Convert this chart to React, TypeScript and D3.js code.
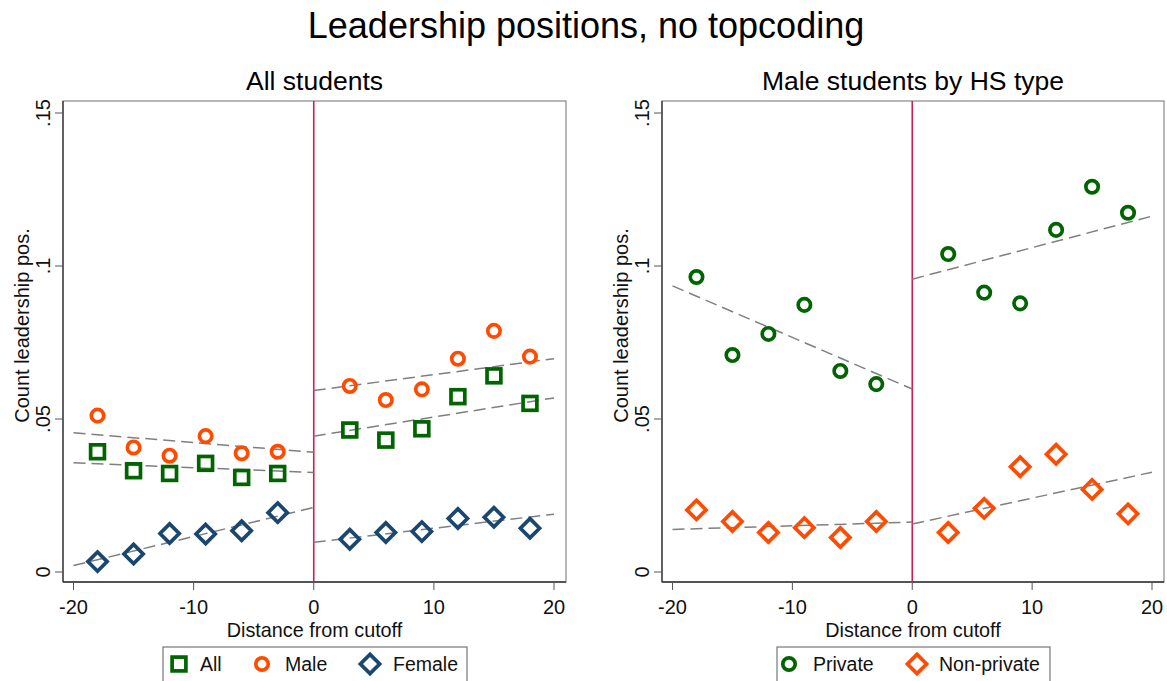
import React from "react";
import * as d3 from "d3";

const xBins = [-18, -15, -12, -9, -6, -3, 3, 6, 9, 12, 15, 18];
const yTicks = [0, 0.05, 0.1, 0.15];
const yTickLabels = ["0", ".05", ".1", ".15"];
const xTicks = [-20, -10, 0, 10, 20];

// Left panel: All students
const allVals = [0.0393, 0.0331, 0.0322, 0.0355, 0.0309, 0.0322, 0.0464, 0.0431, 0.0468, 0.0573, 0.0641, 0.0551];
const maleVals = [0.0511, 0.0407, 0.038, 0.0444, 0.0388, 0.0393, 0.0608, 0.0562, 0.0597, 0.0697, 0.0788, 0.0704];
const femaleVals = [0.0034, 0.0059, 0.0126, 0.0124, 0.0135, 0.0194, 0.0107, 0.0129, 0.0132, 0.0175, 0.0179, 0.0143];

// Fit lines: [x, y] endpoints, left segment and right segment
const allFitL = [[-20, 0.0357], [0, 0.0325]];
const allFitR = [[0, 0.0444], [20, 0.0569]];
const maleFitL = [[-20, 0.0455], [0, 0.0391]];
const maleFitR = [[0, 0.0593], [20, 0.0697]];
const femaleFitL = [[-20, 0.0021], [0, 0.0211]];
const femaleFitR = [[0, 0.0097], [20, 0.0189]];

// Right panel: Male students by HS type
const privateVals = [0.0964, 0.0709, 0.0778, 0.0873, 0.0657, 0.0614, 0.1039, 0.0913, 0.0878, 0.1118, 0.1259, 0.1174];
const nonPrivateVals = [0.0203, 0.0165, 0.0129, 0.0145, 0.0113, 0.0165, 0.0129, 0.0208, 0.0344, 0.0385, 0.027, 0.019];

const privateFitL = [[-20, 0.0935], [0, 0.0598]];
const privateFitR = [[0, 0.0957], [20, 0.1163]];
const nonPrivateFitL = [[-20, 0.0139], [0, 0.0163]];
const nonPrivateFitR = [[0, 0.0157], [20, 0.0326]];

const GREEN = "#006400";
const ORANGE = "#ff4b00";
const NAVY = "#1a476f";
const CUT = "#cf1f4f";
const FONT = "'Liberation Sans', Arial, Helvetica, sans-serif";

type Shape = "square" | "circle" | "diamond";

function Marker({ shape, cx, cy, color }: { shape: Shape; cx: number; cy: number; color: string }) {
  if (shape === "square") {
    return <rect x={cx - 6.9} y={cy - 6.9} width={13.8} height={13.8} fill="none" stroke={color} strokeWidth={3.7} />;
  }
  if (shape === "circle") {
    return <circle cx={cx} cy={cy} r={6.2} fill="none" stroke={color} strokeWidth={3.7} />;
  }
  const r = 9.6;
  return (
    <path
      d={`M${cx},${cy - r}L${cx + r},${cy}L${cx},${cy + r}L${cx - r},${cy}Z`}
      fill="none"
      stroke={color}
      strokeWidth={3.7}
    />
  );
}

interface Series {
  vals: number[];
  shape: Shape;
  color: string;
  fits: number[][][];
}

function Panel({
  left,
  right,
  title,
  series,
}: {
  left: number;
  right: number;
  title: string;
  series: Series[];
}) {
  const top = 101;
  const bottom = 582;
  const x0 = left + 10.5;
  const x1 = right - 12;
  const x = d3.scaleLinear().domain([-20, 20]).range([x0, x1]);
  const y = d3.scaleLinear().domain([0, 0.15]).range([572, 113]);
  const line = d3
    .line<number[]>()
    .x((d) => x(d[0]))
    .y((d) => y(d[1]));
  const cx = (left + right) / 2;
  return (
    <g>
      <text x={cx} y={90} textAnchor="middle" fontSize={26.5} fontFamily={FONT} fill="#000">
        {title}
      </text>
      <rect x={left} y={top} width={right - left} height={bottom - top} fill="#fff" stroke="#888" strokeWidth={1.2} />
      <line x1={left} x2={left} y1={top} y2={bottom} stroke="#333" strokeWidth={1.3} />
      <line x1={left} x2={right} y1={bottom} y2={bottom} stroke="#333" strokeWidth={1.3} />
      {yTicks.map((t, i) => (
        <g key={"y" + i}>
          <line x1={left - 8} x2={left} y1={y(t)} y2={y(t)} stroke="#555" strokeWidth={1} />
          <text
            transform={`translate(${left - 13},${y(t)}) rotate(-90)`}
            textAnchor="middle"
            fontSize={20}
            fontFamily={FONT}
            fill="#111"
          >
            {yTickLabels[i]}
          </text>
        </g>
      ))}
      {xTicks.map((t) => (
        <g key={"x" + t}>
          <line x1={x(t)} x2={x(t)} y1={bottom} y2={bottom + 8} stroke="#555" strokeWidth={1} />
          <text x={x(t)} y={bottom + 32} textAnchor="middle" fontSize={20} fontFamily={FONT} fill="#111">
            {t}
          </text>
        </g>
      ))}
      <text x={cx} y={bottom + 55} textAnchor="middle" fontSize={19.8} fontFamily={FONT} fill="#111">
        Distance from cutoff
      </text>
      <text
        transform={`translate(${left - 34},${(top + bottom) / 2 - 16}) rotate(-90)`}
        textAnchor="middle"
        fontSize={20}
        fontFamily={FONT}
        fill="#111"
      >
        Count leadership pos.
      </text>
      <line x1={x(0)} x2={x(0)} y1={top} y2={bottom} stroke={CUT} strokeWidth={1.6} />
      {series.map((s, si) =>
        s.fits.map((f, fi) => (
          <path
            key={`f${si}-${fi}`}
            d={line(f) || ""}
            fill="none"
            stroke="#7f7f7f"
            strokeWidth={1.5}
            strokeDasharray="12,6"
          />
        ))
      )}
      {series.map((s, si) =>
        s.vals.map((v, i) => (
          <Marker key={`m${si}-${i}`} shape={s.shape} cx={x(xBins[i])} cy={y(v)} color={s.color} />
        ))
      )}
    </g>
  );
}

function Legend({
  x0,
  x1,
  items,
}: {
  x0: number;
  x1: number;
  items: { shape: Shape; color: string; label: string; mx: number; tx: number }[];
}) {
  return (
    <g>
      <rect x={x0} y={647} width={x1 - x0} height={40} fill="#fff" stroke="#777" strokeWidth={1.2} />
      {items.map((it, i) => (
        <g key={i}>
          <Marker shape={it.shape} cx={it.mx} cy={664} color={it.color} />
          <text x={it.tx} y={671} fontSize={19.5} fontFamily={FONT} fill="#111">
            {it.label}
          </text>
        </g>
      ))}
    </g>
  );
}

export default function App() {
  return (
    <svg
      width={1167}
      height={681}
      style={{ position: "absolute", left: 0, top: 0, background: "#fff" }}
    >
      <rect width={1167} height={681} fill="#fff" />
      <text x={586} y={38} textAnchor="middle" fontSize={36} fontFamily={FONT} fill="#000">
        Leadership positions, no topcoding
      </text>
      <Panel
        left={63}
        right={566}
        title="All students"
        series={[
          { vals: allVals, shape: "square", color: GREEN, fits: [allFitL, allFitR] },
          { vals: maleVals, shape: "circle", color: ORANGE, fits: [maleFitL, maleFitR] },
          { vals: femaleVals, shape: "diamond", color: NAVY, fits: [femaleFitL, femaleFitR] },
        ]}
      />
      <Panel
        left={662}
        right={1164}
        title="Male students by HS type"
        series={[
          { vals: privateVals, shape: "circle", color: GREEN, fits: [privateFitL, privateFitR] },
          { vals: nonPrivateVals, shape: "diamond", color: ORANGE, fits: [nonPrivateFitL, nonPrivateFitR] },
        ]}
      />
      <Legend
        x0={163}
        x1={467}
        items={[
          { shape: "square", color: GREEN, label: "All", mx: 179, tx: 200 },
          { shape: "circle", color: ORANGE, label: "Male", mx: 262, tx: 285 },
          { shape: "diamond", color: NAVY, label: "Female", mx: 370, tx: 393 },
        ]}
      />
      <Legend
        x0={777}
        x1={1050}
        items={[
          { shape: "circle", color: GREEN, label: "Private", mx: 789, tx: 813 },
          { shape: "diamond", color: ORANGE, label: "Non-private", mx: 917, tx: 939 },
        ]}
      />
    </svg>
  );
}
